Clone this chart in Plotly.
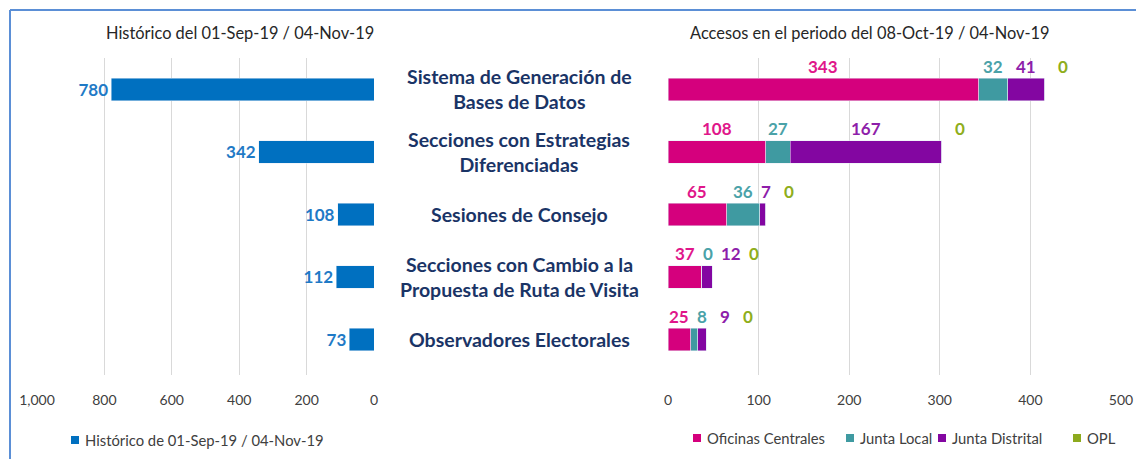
import plotly.graph_objects as go

W, H = 1136, 459

categories = [
    "Sistema de Generación de<br>Bases de Datos",
    "Secciones con Estrategias<br>Diferenciadas",
    "Sesiones de Consejo",
    "Secciones con Cambio a la<br>Propuesta de Ruta de Visita",
    "Observadores Electorales",
]
historico = [780, 342, 108, 112, 73]
oficinas_centrales = [343, 108, 65, 37, 25]
junta_local = [32, 27, 36, 0, 8]
junta_distrital = [41, 167, 7, 12, 9]
opl = [0, 0, 0, 0, 0]

left_ticks = [0, 200, 400, 600, 800, 1000]
right_ticks = [0, 100, 200, 300, 400, 500]

title_left = "Histórico del 01-Sep-19 / 04-Nov-19"
title_right = "Accesos en el periodo del 08-Oct-19 / 04-Nov-19"
legend_left = "Histórico de 01-Sep-19 / 04-Nov-19"
series_names = ["Oficinas Centrales", "Junta Local", "Junta Distrital", "OPL"]

FONT = "Lato"
bar_colors = ["#D5007D", "#3F9AA1", "#8306A1", "#8DAA1E"]
label_colors = ["#E0168A", "#4AA2A8", "#8E1EAA", "#8FAE1C"]


def px(x):
    return x / W


def py(y):
    return 1 - y / H


fig = go.Figure()

fig.add_trace(go.Bar(
    y=categories, x=historico, orientation="h", name=legend_left,
    marker=dict(color="#0070C0"), xaxis="x", yaxis="y",
    text=[str(v) for v in historico], textposition="outside",
    textfont=dict(family=FONT, size=17, color="#1F7AC6", weight="bold"),
    cliponaxis=False, showlegend=False,
))

series = [oficinas_centrales, junta_local, junta_distrital, opl]
for name, vals, col in zip(series_names, series, bar_colors):
    fig.add_trace(go.Bar(
        y=categories, x=vals, orientation="h", name=name,
        marker=dict(color=col), xaxis="x2", yaxis="y", showlegend=False,
    ))

# data labels for stacked bars (placed above the bars, spread to avoid overlap)
units_per_px = 500 / (1121 - 668)
gap = 23 * units_per_px
opl_off = 18 * units_per_px
annotations = []
for i, cat in enumerate(categories):
    cum = 0
    prev = None
    for k, vals in enumerate(series):
        v = vals[i]
        if k == 3:
            pos = cum + opl_off
        else:
            pos = cum + v / 2
        if prev is not None:
            pos = max(pos, prev + gap)
        prev = pos
        cum += v
        annotations.append(dict(
            x=pos, y=cat, xref="x2", yref="y", text=str(v), showarrow=False,
            xanchor="center", yshift=23,
            font=dict(family=FONT, size=17, color=label_colors[k], weight="bold"),
        ))

# category labels in the middle
for cat in categories:
    annotations.append(dict(
        x=px(519), y=cat, xref="paper", yref="y", text=cat, showarrow=False,
        xanchor="center", font=dict(family=FONT, size=19.5, color="#1A3466", weight="bold"),
        align="center",
    ))

annotations.append(dict(x=px(240), y=py(32), xref="paper", yref="paper", text=title_left,
                        xanchor="center", yanchor="middle", showarrow=False,
                        font=dict(family=FONT, size=16.4, color="#262626")))
annotations.append(dict(x=px(870), y=py(32), xref="paper", yref="paper", text=title_right,
                        xanchor="center", yanchor="middle", showarrow=False,
                        font=dict(family=FONT, size=16.4, color="#262626")))

# manual legends (square + text)
shapes = []
legend_items = [(legend_left, "#0070C0", 75, 440)] + [
    (n, c, x, 438) for n, c, x in zip(series_names, bar_colors, [697, 850, 942, 1077])
]
for name, col, x, y in legend_items:
    shapes.append(dict(type="rect", xref="paper", yref="paper",
                       x0=px(x - 4), x1=px(x + 4), y0=py(y + 4), y1=py(y - 4),
                       fillcolor=col, line=dict(width=0)))
    annotations.append(dict(x=px(x + 8), y=py(y), xref="paper", yref="paper", text=name,
                            xanchor="left", yanchor="middle", showarrow=False,
                            font=dict(family=FONT, size=14.8, color="#404040")))

shapes += [
    dict(type="line", xref="paper", yref="paper", x0=px(10), x1=1, y0=py(10), y1=py(10),
         line=dict(color="#5B8FD6", width=2)),
    dict(type="line", xref="paper", yref="paper", x0=px(10), x1=px(10), y0=py(10), y1=0,
         line=dict(color="#5B8FD6", width=2)),
]

fig.update_layout(
    width=W, height=H,
    margin=dict(l=0, r=0, t=0, b=0, autoexpand=False),
    paper_bgcolor="white", plot_bgcolor="white",
    barmode="stack", bargap=0.64,
    font=dict(family=FONT, size=14, color="#404040"),
    xaxis=dict(domain=[px(37), px(374)], range=[1000, 0], tickvals=left_ticks,
               tickformat=",d", showgrid=True, gridcolor="#D9D9D9", gridwidth=1,
               zeroline=False, showline=False, ticks="", ticklabelstandoff=15,
               automargin=False,
               tickfont=dict(family=FONT, size=14, color="#404040"), anchor="y"),
    xaxis2=dict(domain=[px(668), px(1121)], range=[0, 500], tickvals=right_ticks,
                showgrid=True, gridcolor="#D9D9D9", gridwidth=1,
                zeroline=False, showline=False, ticks="", ticklabelstandoff=15,
                automargin=False,
                tickfont=dict(family=FONT, size=14, color="#404040"), anchor="y"),
    yaxis=dict(domain=[py(375), py(58)], autorange="reversed", showticklabels=False,
               showgrid=False, zeroline=False, showline=False, ticks="", automargin=False),
    annotations=annotations,
    shapes=shapes,
    showlegend=False,
)

fig.write_html(
    "out.html",
    config={"displayModeBar": False},
    post_script="document.body.style.margin='0';document.body.style.overflow='hidden';",
)
